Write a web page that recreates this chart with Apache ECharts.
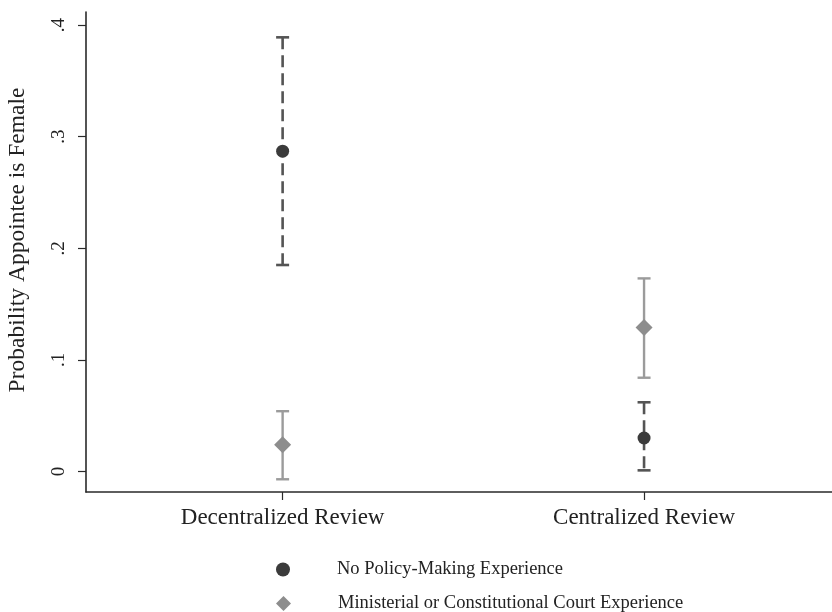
<!DOCTYPE html>
<html>
<head>
<meta charset="utf-8">
<script src="https://cdn.jsdelivr.net/npm/echarts@6/dist/echarts.min.js"></script>
<style>
  html, body { margin: 0; padding: 0; background: #fff; }
  #chart { width: 832px; height: 612px; }
</style>
</head>
<body>
<div id="chart"></div>
<script>
// Review regimes on the horizontal axis (positions 1 and 2)
const categories = ['Decentralized Review', 'Centralized Review'];
const categoryPos = [1, 2];

// Predicted probability with 95% interval: no policy-making experience
const noPolicyEst = [0.287, 0.030];
const noPolicyLo  = [0.185, 0.001];
const noPolicyHi  = [0.389, 0.062];

// Predicted probability with 95% interval: ministerial / constitutional court experience
const ministerialEst = [0.024, 0.129];
const ministerialLo  = [-0.007, 0.084];
const ministerialHi  = [0.054, 0.173];

// Y axis ticks and their labels
const yTicks = [0, 0.1, 0.2, 0.3, 0.4];
const yTickLabels = ['0', '.1', '.2', '.3', '.4'];

const seriesNames = ['No Policy-Making Experience', 'Ministerial or Constitutional Court Experience'];

const FONT = 'Liberation Serif';
const DARK = '#3b3b3b';
const DARK_LINE = '#545454';
const GREY = '#8d8d8d';
const GREY_LINE = '#9b9b9b';

function intervalData(lo, hi) {
  return categoryPos.map((x, i) => [x, lo[i], hi[i]]);
}

function makeRangeRenderer(color, width, dash) {
  return function (params, api) {
    const x = api.value(0);
    const top = api.coord([x, api.value(2)]);
    const bot = api.coord([x, api.value(1)]);
    const capHalf = 6.5;
    const style = { stroke: color, lineWidth: width, lineDash: dash || null, fill: null };
    const capStyle = { stroke: color, lineWidth: width, fill: null };
    return {
      type: 'group',
      children: [
        { type: 'line', shape: { x1: top[0], y1: top[1], x2: bot[0], y2: bot[1] }, style: style },
        { type: 'line', shape: { x1: top[0] - capHalf, y1: top[1], x2: top[0] + capHalf, y2: top[1] }, style: capStyle },
        { type: 'line', shape: { x1: bot[0] - capHalf, y1: bot[1], x2: bot[0] + capHalf, y2: bot[1] }, style: capStyle }
      ]
    };
  };
}

const legendText = { fontFamily: FONT, fontSize: 18.5, color: '#222', padding: [0, 0, 0, 42] };

const chart = echarts.init(document.getElementById('chart'), null, { renderer: 'canvas' });

chart.setOption({
  animation: false,
  backgroundColor: '#ffffff',
  grid: { left: 86, right: 0, top: 12, bottom: 120, containLabel: false, outerBoundsMode: 'none' },
  legend: [
    {
      left: 271,
      top: 555,
      itemWidth: 14,
      itemHeight: 14,
      data: [{ name: seriesNames[0], icon: 'circle', itemStyle: { color: DARK } }],
      textStyle: legendText
    },
    {
      left: 271,
      top: 589,
      itemWidth: 15,
      itemHeight: 15,
      data: [{ name: seriesNames[1], icon: 'diamond', itemStyle: { color: GREY } }],
      textStyle: legendText
    }
  ],
  xAxis: {
    type: 'value',
    min: 0.456,
    max: 2.52,
    splitLine: { show: false },
    axisLine: { show: true, onZero: false, lineStyle: { color: '#2a2a2a', width: 1.6 } },
    axisTick: { show: true, customValues: categoryPos, length: 8, lineStyle: { color: '#2a2a2a', width: 1.2 } },
    axisLabel: {
      customValues: categoryPos,
      formatter: v => categories[categoryPos.indexOf(v)] || '',
      margin: 14,
      fontFamily: FONT,
      fontSize: 23,
      color: '#222'
    }
  },
  yAxis: {
    type: 'value',
    min: -0.0184,
    max: 0.4117,
    name: 'Probability Appointee is Female',
    nameLocation: 'middle',
    nameRotate: 90,
    nameGap: 56,
    nameTextStyle: { fontFamily: FONT, fontSize: 23.5, color: '#222', padding: [0, 0, 0, 24] },
    splitLine: { show: false },
    axisLine: { show: true, onZero: false, lineStyle: { color: '#2a2a2a', width: 1.6 } },
    axisTick: { show: true, customValues: yTicks, length: 8, lineStyle: { color: '#2a2a2a', width: 1.2 } },
    axisLabel: {
      customValues: yTicks,
      formatter: v => yTickLabels[yTicks.findIndex(t => Math.abs(t - v) < 1e-9)] ?? '',
      rotate: 90,
      margin: 17,
      fontFamily: FONT,
      fontSize: 19,
      color: '#222'
    }
  },
  series: [
    {
      name: seriesNames[0] + ' CI',
      type: 'custom',
      renderItem: makeRangeRenderer(DARK_LINE, 2.6, [12, 6]),
      data: intervalData(noPolicyLo, noPolicyHi),
      encode: { x: 0, y: [1, 2] },
      z: 1,
      silent: true
    },
    {
      name: seriesNames[1] + ' CI',
      type: 'custom',
      renderItem: makeRangeRenderer(GREY_LINE, 2.4, null),
      data: intervalData(ministerialLo, ministerialHi),
      encode: { x: 0, y: [1, 2] },
      z: 1,
      silent: true
    },
    {
      name: seriesNames[0],
      type: 'scatter',
      symbol: 'circle',
      symbolSize: 13,
      itemStyle: { color: DARK, opacity: 1 },
      data: categoryPos.map((x, i) => [x, noPolicyEst[i]]),
      z: 3
    },
    {
      name: seriesNames[1],
      type: 'scatter',
      symbol: 'diamond',
      symbolSize: 17,
      itemStyle: { color: GREY, opacity: 1 },
      data: categoryPos.map((x, i) => [x, ministerialEst[i]]),
      z: 3
    }
  ]
});
</script>
</body>
</html>
